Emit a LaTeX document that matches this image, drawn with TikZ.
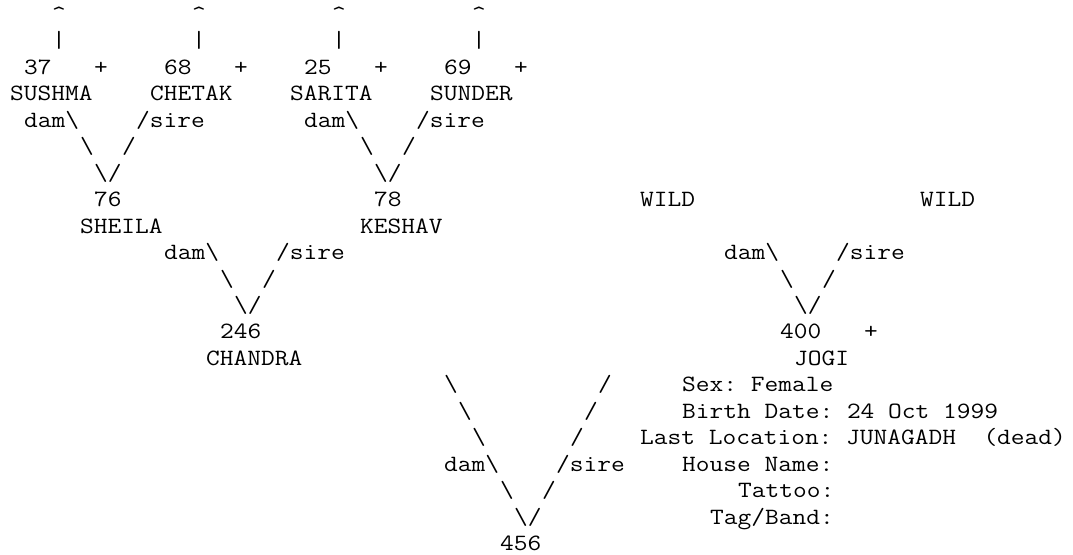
\documentclass[tikz,border=0pt]{standalone}
\usepackage{tikz}

\begin{document}
\begin{tikzpicture}[
    x=12.25pt, y=-26.45pt, xscale=1.142857,
    txt/.style={anchor=base west, inner sep=0pt, transform shape, font=\ttfamily\fontsize{23.33}{26}\selectfont\frenchspacing}
]

\useasboundingbox (0,0) rectangle (76.643,20.945);

\begin{scope}[shift={(0.714,0.813)}]
\node[txt] (up1) at (3,0) {\textasciicircum};
\node[txt] (up2) at (13,0) {\textasciicircum};
\node[txt] (up3) at (23,0) {\textasciicircum};
\node[txt] (up4) at (33,0) {\textasciicircum};
\node[txt] (bar1) at (3,1) {\textbar};
\node[txt] (bar2) at (13,1) {\textbar};
\node[txt] (bar3) at (23,1) {\textbar};
\node[txt] (bar4) at (33,1) {\textbar};

\node[txt] (n37) at (1,2) {37};
\node[txt] (p37) at (6,2) {+};
\node[txt] (n68) at (11,2) {68};
\node[txt] (p68) at (16,2) {+};
\node[txt] (n25) at (21,2) {25};
\node[txt] (p25) at (26,2) {+};
\node[txt] (n69) at (31,2) {69};
\node[txt] (p69) at (36,2) {+};
\node[txt] (sushma) at (0,3) {SUSHMA};
\node[txt] (chetak) at (10,3) {CHETAK};
\node[txt] (sarita) at (20,3) {SARITA};
\node[txt] (sunder) at (30,3) {SUNDER};

\node[txt] (dam76) at (1,4) {dam\textbackslash};
\node[txt] (sire76) at (9,4) {/sire};
\node[txt] (dam78) at (21,4) {dam\textbackslash};
\node[txt] (sire78) at (29,4) {/sire};
\node[txt] (bsa76) at (5,5) {\textbackslash};
\node[txt] (fsa76) at (8,5) {/};
\node[txt] (bsa78) at (25,5) {\textbackslash};
\node[txt] (fsa78) at (28,5) {/};
\node[txt] (v76) at (6,6) {\textbackslash/};
\node[txt] (v78) at (26,6) {\textbackslash/};

\node[txt] (n76) at (6,7) {76};
\node[txt] (n78) at (26,7) {78};
\node[txt] (wild1) at (45,7) {WILD};
\node[txt] (wild2) at (65,7) {WILD};
\node[txt] (sheila) at (5,8) {SHEILA};
\node[txt] (keshav) at (25,8) {KESHAV};

\node[txt] (dam246) at (11,9) {dam\textbackslash};
\node[txt] (sire246) at (19,9) {/sire};
\node[txt] (dam400) at (51,9) {dam\textbackslash};
\node[txt] (sire400) at (59,9) {/sire};
\node[txt] (bsa246) at (15,10) {\textbackslash};
\node[txt] (fsa246) at (18,10) {/};
\node[txt] (bsa400) at (55,10) {\textbackslash};
\node[txt] (fsa400) at (58,10) {/};
\node[txt] (v246) at (16,11) {\textbackslash/};
\node[txt] (v400) at (56,11) {\textbackslash/};

\node[txt] (n246) at (15,12) {246};
\node[txt] (n400) at (55,12) {400};
\node[txt] (p400) at (61,12) {+};
\node[txt] (chandra) at (14,13) {CHANDRA};
\node[txt] (jogi) at (56,13) {JOGI};

\node[txt] (bsa1) at (31,14) {\textbackslash};
\node[txt] (fsa1) at (42,14) {/};
\node[txt] (sex) at (48,14) {Sex: Female};
\node[txt] (bsa2) at (32,15) {\textbackslash};
\node[txt] (fsa2) at (41,15) {/};
\node[txt] (born) at (48,15) {Birth Date: 24 Oct 1999};
\node[txt] (bsa3) at (33,16) {\textbackslash};
\node[txt] (fsa3) at (40,16) {/};
\node[txt] (loc) at (45,16) {Last Location: JUNAGADH~~(dead)};
\node[txt] (dam456) at (31,17) {dam\textbackslash};
\node[txt] (sire456) at (39,17) {/sire};
\node[txt] (house) at (48,17) {House Name:};
\node[txt] (bsa456) at (35,18) {\textbackslash};
\node[txt] (fsa456) at (38,18) {/};
\node[txt] (tattoo) at (52,18) {Tattoo:};
\node[txt] (v456) at (36,19) {\textbackslash/};
\node[txt] (tag) at (50,19) {Tag/Band:};
\node[txt] (n456) at (35,20) {456};
\end{scope}

\end{tikzpicture}
\end{document}
